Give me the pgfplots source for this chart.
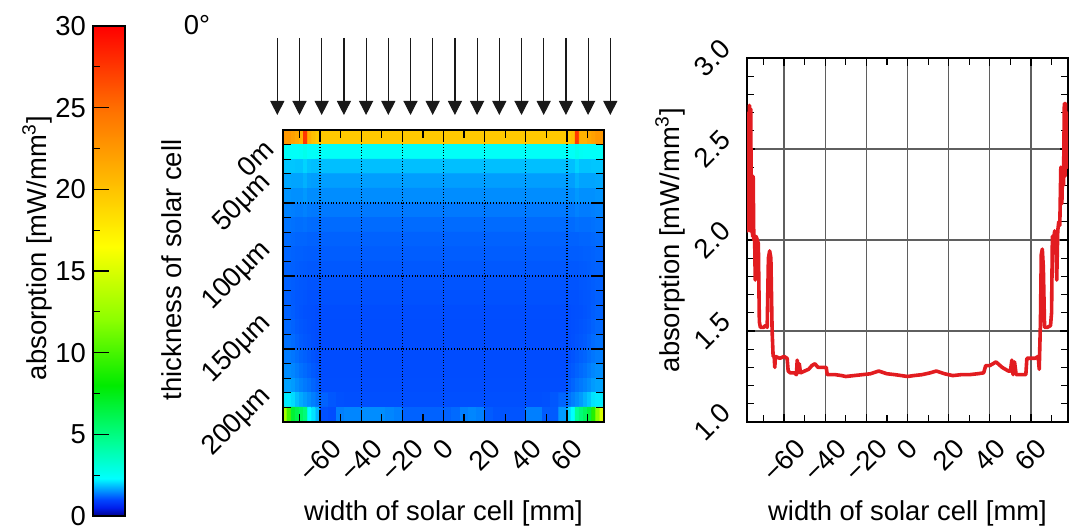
\documentclass[border=0pt]{standalone}
\usepackage{fontspec}
\setmainfont{Liberation Sans}
\setsansfont{Liberation Sans}
\usepackage{graphicx}
\usepackage{pgfplots}
\pgfplotsset{compat=1.18}
\usetikzlibrary{arrows.meta}

\definecolor{curvered}{RGB}{226,28,32}
\definecolor{gridgray}{RGB}{95,95,95}

\pgfplotsset{
  colormap={absorb}{
    rgb255(0pt)=(0,0,140); rgb255(5pt)=(0,30,235); rgb255(10pt)=(0,70,255);
    rgb255(23pt)=(0,255,255); rgb255(45pt)=(0,255,150); rgb255(80pt)=(0,235,0);
    rgb255(120pt)=(140,255,0); rgb255(165pt)=(255,255,0); rgb255(200pt)=(255,195,0);
    rgb255(250pt)=(255,110,0); rgb255(300pt)=(255,0,0)},
  every axis/.append style={
    font=\fontsize{13.7}{16}\selectfont,
    /pgf/number format/assume math mode=true,
    scale only axis, tick align=inside,
    axis line style={black, line width=0.8pt},
    tick style={black, line width=0.6pt},
  },
}

\begin{document}
\begin{tikzpicture}

% colour scale
\begin{axis}[
  at={(46.5pt,6pt)}, anchor=south west,
  width=16pt, height=245pt,
  xmin=0, xmax=1, ymin=0, ymax=30,
  enlargelimits=false, axis on top,
  colormap name=absorb, point meta min=0, point meta max=30,
  xtick=\empty, ytick={0,5,10,15,20,25,30},
  minor ytick={2.5,7.5,12.5,17.5,22.5,27.5},
  ytick pos=left,
  major tick length=8pt, minor tick length=3.5pt,
  ylabel={absorption [mW/mm\textsuperscript{3}]},
  ylabel style={at={(axis description cs:-1.75,0.547)}, anchor=center},
]
\addplot[surf, shader=interp, point meta=y] coordinates {
(0,0) (1,0)

(0,30) (1,30)
};
\end{axis}

% absorption map
\begin{axis}[
  at={(141.5pt,53pt)}, anchor=south west,
  width=160.5pt, height=146pt,
  xmin=-78, xmax=78, ymin=0, ymax=200, y dir=reverse,
  enlargelimits=false, axis on top,
  colormap name=absorb, point meta min=0, point meta max=30,
  xtick={-60,-40,-20,0,20,40,60},
  xticklabels={\rotatebox{45}{−60},\rotatebox{45}{−40},\rotatebox{45}{−20},\rotatebox{45}{0},\rotatebox{45}{20},\rotatebox{45}{40},\rotatebox{45}{60}},
  minor xtick={-70,-50,-30,-10,10,30,50,70},
  ytick={50,100,150,200},
  yticklabels={\rotatebox{45}{50µm},\rotatebox{45}{100µm},\rotatebox{45}{150µm},\rotatebox{45}{200µm}},
  minor ytick={10,20,30,40,60,70,80,90,110,120,130,140,160,170,180,190},
  extra y ticks={19.2}, extra y tick labels={\rotatebox{45}{0m}},
  extra y tick style={grid=none, major tick length=0pt},
  grid=major, major grid style={black, densely dotted, line width=0.6pt},
  major tick length=6pt, minor tick length=4pt,
  xticklabel style={yshift=-4pt},
  xlabel={width of solar cell [mm]},
  xlabel style={at={(axis description cs:0.5,0)}, anchor=center, yshift=-45.5pt},
  ylabel={thickness of solar cell},
  ylabel style={at={(axis description cs:-0.3458,0.5206)}, anchor=center},
]
% whole width, one value per 10 µm layer
\addplot[matrix plot*, mesh/cols=2, point meta=explicit] coordinates {
(-39,5)[19.6] (39,5)[19.6]
(-39,15)[2.45] (39,15)[2.45]
(-39,25)[1.85] (39,25)[1.85]
(-39,35)[1.62] (39,35)[1.62]
(-39,45)[1.5] (39,45)[1.5]
(-39,55)[1.36] (39,55)[1.36]
(-39,65)[1.26] (39,65)[1.26]
(-39,75)[1.2] (39,75)[1.2]
(-39,85)[1.16] (39,85)[1.16]
(-39,95)[1.13] (39,95)[1.13]
(-39,105)[1.1] (39,105)[1.1]
(-39,115)[1.08] (39,115)[1.08]
(-39,125)[1.05] (39,125)[1.05]
(-39,135)[1.04] (39,135)[1.04]
(-39,145)[1.04] (39,145)[1.04]
(-39,155)[1.04] (39,155)[1.04]
(-39,165)[1.04] (39,165)[1.04]
(-39,175)[1.05] (39,175)[1.05]
(-39,185)[1.06] (39,185)[1.06]
(-39,195)[1.2] (39,195)[1.2]
};
% left edge
\addplot[matrix plot*, mesh/cols=9, point meta=explicit] coordinates {
(-77,5)[22.5] (-75,5)[22.5] (-73,5)[22] (-71,5)[21.5] (-69,5)[21] (-67,5)[27.5] (-65,5)[21] (-63,5)[20.2] (-61,5)[19.6]
(-77,15)[2.45] (-75,15)[2.45] (-73,15)[2.45] (-71,15)[2.45] (-69,15)[2.5] (-67,15)[2.7] (-65,15)[2.45] (-63,15)[2.45] (-61,15)[2.45]
(-77,25)[1.9] (-75,25)[1.9] (-73,25)[1.9] (-71,25)[1.88] (-69,25)[1.88] (-67,25)[2.0] (-65,25)[1.88] (-63,25)[1.85] (-61,25)[1.85]
(-77,35)[1.68] (-75,35)[1.68] (-73,35)[1.66] (-71,35)[1.66] (-69,35)[1.66] (-67,35)[1.75] (-65,35)[1.64] (-63,35)[1.62] (-61,35)[1.62]
(-77,45)[1.55] (-75,45)[1.55] (-73,45)[1.52] (-71,45)[1.52] (-69,45)[1.52] (-67,45)[1.58] (-65,45)[1.5] (-63,45)[1.5] (-61,45)[1.5]
(-77,55)[1.42] (-75,55)[1.42] (-73,55)[1.4] (-71,55)[1.38] (-69,55)[1.38] (-67,55)[1.42] (-65,55)[1.37] (-63,55)[1.36] (-61,55)[1.36]
(-77,65)[1.32] (-75,65)[1.32] (-73,65)[1.3] (-71,65)[1.28] (-69,65)[1.28] (-67,65)[1.3] (-65,65)[1.27] (-63,65)[1.26] (-61,65)[1.26]
(-77,75)[1.26] (-75,75)[1.26] (-73,75)[1.24] (-71,75)[1.22] (-69,75)[1.22] (-67,75)[1.22] (-65,75)[1.2] (-63,75)[1.2] (-61,75)[1.2]
(-77,85)[1.22] (-75,85)[1.22] (-73,85)[1.2] (-71,85)[1.18] (-69,85)[1.18] (-67,85)[1.17] (-65,85)[1.16] (-63,85)[1.16] (-61,85)[1.16]
(-77,95)[1.2] (-75,95)[1.2] (-73,95)[1.18] (-71,95)[1.16] (-69,95)[1.15] (-67,95)[1.14] (-65,95)[1.13] (-63,95)[1.13] (-61,95)[1.13]
(-77,105)[1.18] (-75,105)[1.18] (-73,105)[1.16] (-71,105)[1.14] (-69,105)[1.13] (-67,105)[1.12] (-65,105)[1.1] (-63,105)[1.1] (-61,105)[1.1]
(-77,115)[1.18] (-75,115)[1.18] (-73,115)[1.15] (-71,115)[1.12] (-69,115)[1.11] (-67,115)[1.1] (-65,115)[1.08] (-63,115)[1.08] (-61,115)[1.08]
(-77,125)[1.2] (-75,125)[1.2] (-73,125)[1.16] (-71,125)[1.12] (-69,125)[1.1] (-67,125)[1.08] (-65,125)[1.07] (-63,125)[1.06] (-61,125)[1.05]
(-77,135)[1.24] (-75,135)[1.24] (-73,135)[1.2] (-71,135)[1.15] (-69,135)[1.12] (-67,135)[1.1] (-65,135)[1.08] (-63,135)[1.06] (-61,135)[1.05]
(-77,145)[1.3] (-75,145)[1.3] (-73,145)[1.26] (-71,145)[1.2] (-69,145)[1.15] (-67,145)[1.12] (-65,145)[1.1] (-63,145)[1.07] (-61,145)[1.05]
(-77,155)[1.38] (-75,155)[1.38] (-73,155)[1.34] (-71,155)[1.28] (-69,155)[1.22] (-67,155)[1.18] (-65,155)[1.14] (-63,155)[1.1] (-61,155)[1.06]
(-77,165)[1.5] (-75,165)[1.5] (-73,165)[1.45] (-71,165)[1.38] (-69,165)[1.3] (-67,165)[1.25] (-65,165)[1.2] (-63,165)[1.14] (-61,165)[1.1]
(-77,175)[1.65] (-75,175)[1.65] (-73,175)[1.6] (-71,175)[1.5] (-69,175)[1.42] (-67,175)[1.36] (-65,175)[1.3] (-63,175)[1.22] (-61,175)[1.15]
(-77,185)[2.15] (-75,185)[2.15] (-73,185)[2.05] (-71,185)[1.85] (-69,185)[1.7] (-67,185)[1.6] (-65,185)[1.5] (-63,185)[1.4] (-61,185)[1.3]
(-77,195)[13] (-75,195)[10] (-73,195)[6.8] (-71,195)[6.2] (-69,195)[5.8] (-67,195)[5.2] (-65,195)[2.3] (-63,195)[2.1] (-61,195)[1.8]
};
% right edge
\addplot[matrix plot*, mesh/cols=9, point meta=explicit] coordinates {
(61,5)[19.6] (63,5)[20.2] (65,5)[27.5] (67,5)[21] (69,5)[21] (71,5)[21.5] (73,5)[22] (75,5)[22.5] (77,5)[22.5]
(61,15)[2.45] (63,15)[2.45] (65,15)[2.7] (67,15)[2.5] (69,15)[2.45] (71,15)[2.45] (73,15)[2.45] (75,15)[2.45] (77,15)[2.45]
(61,25)[1.85] (63,25)[1.85] (65,25)[2.0] (67,25)[1.88] (69,25)[1.88] (71,25)[1.88] (73,25)[1.9] (75,25)[1.9] (77,25)[1.9]
(61,35)[1.62] (63,35)[1.62] (65,35)[1.75] (67,35)[1.66] (69,35)[1.66] (71,35)[1.66] (73,35)[1.66] (75,35)[1.68] (77,35)[1.68]
(61,45)[1.5] (63,45)[1.5] (65,45)[1.58] (67,45)[1.52] (69,45)[1.52] (71,45)[1.52] (73,45)[1.52] (75,45)[1.55] (77,45)[1.55]
(61,55)[1.36] (63,55)[1.36] (65,55)[1.42] (67,55)[1.38] (69,55)[1.38] (71,55)[1.38] (73,55)[1.4] (75,55)[1.42] (77,55)[1.42]
(61,65)[1.26] (63,65)[1.26] (65,65)[1.3] (67,65)[1.28] (69,65)[1.28] (71,65)[1.28] (73,65)[1.3] (75,65)[1.32] (77,65)[1.32]
(61,75)[1.2] (63,75)[1.2] (65,75)[1.2] (67,75)[1.22] (69,75)[1.22] (71,75)[1.22] (73,75)[1.24] (75,75)[1.26] (77,75)[1.26]
(61,85)[1.16] (63,85)[1.16] (65,85)[1.16] (67,85)[1.17] (69,85)[1.18] (71,85)[1.18] (73,85)[1.2] (75,85)[1.22] (77,85)[1.22]
(61,95)[1.13] (63,95)[1.13] (65,95)[1.13] (67,95)[1.14] (69,95)[1.15] (71,95)[1.16] (73,95)[1.18] (75,95)[1.2] (77,95)[1.2]
(61,105)[1.1] (63,105)[1.1] (65,105)[1.1] (67,105)[1.12] (69,105)[1.13] (71,105)[1.14] (73,105)[1.16] (75,105)[1.18] (77,105)[1.18]
(61,115)[1.08] (63,115)[1.08] (65,115)[1.08] (67,115)[1.1] (69,115)[1.11] (71,115)[1.12] (73,115)[1.15] (75,115)[1.18] (77,115)[1.18]
(61,125)[1.05] (63,125)[1.06] (65,125)[1.07] (67,125)[1.08] (69,125)[1.1] (71,125)[1.12] (73,125)[1.16] (75,125)[1.2] (77,125)[1.2]
(61,135)[1.05] (63,135)[1.06] (65,135)[1.08] (67,135)[1.1] (69,135)[1.12] (71,135)[1.15] (73,135)[1.2] (75,135)[1.24] (77,135)[1.24]
(61,145)[1.05] (63,145)[1.07] (65,145)[1.1] (67,145)[1.12] (69,145)[1.15] (71,145)[1.2] (73,145)[1.26] (75,145)[1.3] (77,145)[1.3]
(61,155)[1.06] (63,155)[1.1] (65,155)[1.14] (67,155)[1.18] (69,155)[1.22] (71,155)[1.28] (73,155)[1.34] (75,155)[1.38] (77,155)[1.38]
(61,165)[1.1] (63,165)[1.14] (65,165)[1.2] (67,165)[1.25] (69,165)[1.3] (71,165)[1.38] (73,165)[1.45] (75,165)[1.5] (77,165)[1.5]
(61,175)[1.15] (63,175)[1.22] (65,175)[1.3] (67,175)[1.36] (69,175)[1.42] (71,175)[1.5] (73,175)[1.6] (75,175)[1.65] (77,175)[1.65]
(61,185)[1.3] (63,185)[1.4] (65,185)[1.5] (67,185)[1.6] (69,185)[1.75] (71,185)[1.9] (73,185)[2.1] (75,185)[2.15] (77,185)[2.15]
(61,195)[2.0] (63,195)[2.3] (65,195)[4.5] (67,195)[5.2] (69,195)[5.8] (71,195)[6.5] (73,195)[9] (75,195)[12] (77,195)[15]
};
% bottom two layers between the edges
\addplot[matrix plot*, mesh/cols=30, point meta=explicit] coordinates {
(-58,185)[1.2] (-54,185)[1.12] (-50,185)[1.08] (-46,185)[1.06] (-42,185)[1.06] (-38,185)[1.06] (-34,185)[1.06] (-30,185)[1.06] (-26,185)[1.06] (-22,185)[1.06] (-18,185)[1.06] (-14,185)[1.06] (-10,185)[1.06] (-6,185)[1.06] (-2,185)[1.06] (2,185)[1.06] (6,185)[1.06] (10,185)[1.06] (14,185)[1.06] (18,185)[1.06] (22,185)[1.06] (26,185)[1.06] (30,185)[1.06] (34,185)[1.06] (38,185)[1.06] (42,185)[1.06] (46,185)[1.06] (50,185)[1.08] (54,185)[1.12] (58,185)[1.22]
(-58,195)[1.08] (-54,195)[1.05] (-50,195)[1.4] (-46,195)[1.45] (-42,195)[1.45] (-38,195)[1.5] (-34,195)[1.5] (-30,195)[1.5] (-26,195)[1.45] (-22,195)[1.4] (-18,195)[1.2] (-14,195)[1.2] (-10,195)[1.2] (-6,195)[1.2] (-2,195)[1.2] (2,195)[1.2] (6,195)[1.25] (10,195)[1.4] (14,195)[1.45] (18,195)[1.4] (22,195)[1.15] (26,195)[1.1] (30,195)[1.1] (34,195)[1.1] (38,195)[1.1] (42,195)[1.4] (46,195)[1.4] (50,195)[1.15] (54,195)[1.15] (58,195)[1.6]
};
\end{axis}

% absorption profile
\begin{axis}[
  at={(373.5pt,53pt)}, anchor=south west,
  width=160.5pt, height=182pt,
  xmin=-78, xmax=78, ymin=1, ymax=3,
  xtick={-60,-40,-20,0,20,40,60},
  xticklabels={\rotatebox{45}{−60},\rotatebox{45}{−40},\rotatebox{45}{−20},\rotatebox{45}{0},\rotatebox{45}{20},\rotatebox{45}{40},\rotatebox{45}{60}},
  minor xtick={-70,-50,-30,-10,10,30,50,70},
  ytick={1,1.5,2,2.5,3},
  yticklabels={\rotatebox{45}{1.0},\rotatebox{45}{1.5},\rotatebox{45}{2.0},\rotatebox{45}{2.5},\rotatebox{45}{3.0}},
  minor ytick={1.1,1.2,1.3,1.4,1.6,1.7,1.8,1.9,2.1,2.2,2.3,2.4,2.6,2.7,2.8,2.9},
  grid=major, major grid style={gridgray, line width=0.6pt},
  major tick length=4pt, minor tick length=3.5pt,
  xticklabel style={yshift=-4pt},
  yticklabel style={xshift=-3.5pt},
  xlabel={width of solar cell [mm]},
  xlabel style={at={(axis description cs:0.5,0)}, anchor=center, yshift=-45.5pt},
  ylabel={absorption [mW/mm\textsuperscript{3}]},
  ylabel style={at={(axis description cs:-0.2399,0.5)}, anchor=center},
]
\addplot[curvered, line width=1.8pt, line join=round] coordinates {
(-78,2.65) (-77.7,2.05) (-77.4,2.70) (-77.1,2.10) (-76.8,2.74) (-76.5,2.05)
(-76.2,2.72) (-75.9,2.15) (-75.6,2.35) (-75.3,2.02) (-75.0,2.35) (-74.7,2.0)
(-74.3,2.02) (-74.0,1.78) (-73.6,2.02) (-73.0,2.0) (-72.5,1.98) (-72.0,1.55)
(-71.5,1.52) (-70.0,1.52) (-69.0,1.53) (-68.2,1.52) (-67.6,1.90) (-67.0,1.94)
(-66.4,1.90) (-65.8,1.50) (-65.3,1.36) (-64.8,1.36) (-64.5,1.30) (-64.2,1.36)
(-62,1.35) (-60,1.36) (-58.5,1.35) (-58.0,1.28) (-57,1.27) (-55,1.27)
(-54,1.26) (-53.6,1.34) (-53.2,1.27) (-52.6,1.32) (-52.0,1.27) (-50,1.28)
(-48,1.29) (-46.5,1.31) (-45,1.32) (-43.5,1.30) (-41,1.30) (-39.5,1.30)
(-39.0,1.26) (-35,1.26) (-32,1.255) (-30,1.25) (-26,1.255) (-22,1.26)
(-18,1.265) (-14,1.28) (-10,1.265) (-6,1.26) (-3,1.255) (0,1.25)
(3,1.255) (7,1.26) (11,1.27) (14,1.28) (18,1.265) (22,1.255)
(26,1.26) (30,1.26) (34,1.265) (37,1.27) (38,1.31) (40,1.31)
(43,1.33) (46,1.30) (49,1.28) (50,1.28) (50.7,1.34) (51.3,1.26)
(52,1.33) (52.8,1.26) (55,1.26) (57.5,1.26) (58,1.35) (62,1.35)
(63.5,1.36) (64.0,1.29) (64.6,1.55) (65.0,1.92) (65.5,1.95) (66.0,1.85)
(66.6,1.52) (68,1.52) (69.5,1.53) (70.0,1.60) (70.4,2.02) (71,2.0)
(71.5,2.05) (72.0,2.02) (72.5,1.78) (73.0,2.05) (73.5,2.10) (74.0,2.08)
(74.5,2.40) (75.0,2.20) (75.4,2.40) (75.8,2.3) (76.2,2.75) (76.5,2.35)
(76.8,2.75) (77.1,2.45) (77.4,2.70) (77.7,2.40) (78,2.70)
};
\end{axis}

% incoming light
\foreach \i in {0,...,15}
  \draw[black!90, line width=0.6pt, -{Triangle[length=7pt,width=7pt]}]
    ({138.65pt+11.1pt*\i},245pt) -- ({138.65pt+11.1pt*\i},206.5pt);
\node[font=\fontsize{13.7}{16}\selectfont] at (98.5pt,251.5pt) {0°};

\pgfresetboundingbox
\path[use as bounding box] (0,0) rectangle (534.5pt,264pt);
\end{tikzpicture}
\end{document}
